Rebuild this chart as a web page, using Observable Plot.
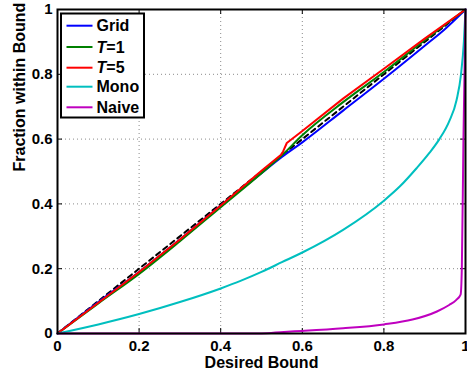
<!DOCTYPE html>
<html>
<head>
<meta charset="utf-8">
<script src="https://cdn.jsdelivr.net/npm/d3@7"></script>
<script src="https://cdn.jsdelivr.net/npm/@observablehq/plot@0.6"></script>
<style>
  html, body { margin: 0; padding: 0; background: #fff; }
  #chart { width: 467px; height: 375px; }
</style>
</head>
<body>
<div id="chart"></div>
<script>
// ---- data ----
const xTicks = [0, 0.2, 0.4, 0.6, 0.8, 1];
const yTicks = [0, 0.2, 0.4, 0.6, 0.8, 1];
const xTickLabels = ["0", "0.2", "0.4", "0.6", "0.8", "1"];
const yTickLabels = ["0", "0.2", "0.4", "0.6", "0.8", "1"];
const xLabel = "Desired Bound";
const yLabel = "Fraction within Bound";

const idealX = [0, 1];
const idealY = [0, 1];

const gridX = [0, 0.1, 0.2, 0.3, 0.4, 0.5, 0.55, 0.6, 0.7, 0.8, 0.9, 0.95, 1];
const gridY = [0, 0.097, 0.19, 0.29, 0.395, 0.495, 0.545, 0.59, 0.688, 0.786, 0.888, 0.94, 1];

const t1X = [0, 0.1, 0.2, 0.3, 0.4, 0.5, 0.55, 0.6, 0.7, 0.8, 0.9, 1];
const t1Y = [0, 0.093, 0.184, 0.285, 0.39, 0.495, 0.55, 0.612, 0.714, 0.807, 0.905, 1];

const t5X = [0, 0.1, 0.2, 0.3, 0.4, 0.5, 0.548, 0.553, 0.562, 0.6, 0.7, 0.8, 0.9, 1];
const t5Y = [0, 0.095, 0.19, 0.29, 0.395, 0.502, 0.552, 0.562, 0.588, 0.625, 0.725, 0.817, 0.91, 1];

const monoX = [0, 0.1, 0.2, 0.3, 0.4, 0.45, 0.5, 0.55, 0.6, 0.7, 0.8, 0.84, 0.88, 0.91, 0.936, 0.96, 0.978, 0.989, 0.996, 1];
const monoY = [0, 0.028, 0.06, 0.097, 0.139, 0.163, 0.19, 0.22, 0.25, 0.32, 0.41, 0.455, 0.51, 0.555, 0.6, 0.655, 0.72, 0.8, 0.9, 1];

const naiveX = [0, 0.5, 0.555, 0.6, 0.7, 0.8, 0.87, 0.93, 0.96, 0.977, 0.988, 0.991, 0.995, 1];
const naiveY = [0, 0, 0.005, 0.008, 0.016, 0.028, 0.043, 0.068, 0.088, 0.103, 0.12, 0.2, 0.6, 1];

const seriesNames = ["Grid", "T=1", "T=5", "Mono", "Naive"];
const seriesColors = ["#0000ff", "#008000", "#ff0000", "#00bfbf", "#bf00bf"];
const seriesCurves = ["monotone-x", "monotone-x", "linear", "monotone-x", "monotone-x"];

// ---- build ----
const W = 467, H = 375;
const mL = 57, mR = 2, mT = 9, mB = 42;
const frameH = H - mT - mB;
const frameW = W - mL - mR;
const pairs = (xs, ys) => xs.map((x, i) => ({x, y: ys[i]}));
const series = [
  pairs(gridX, gridY), pairs(t1X, t1Y), pairs(t5X, t5Y), pairs(monoX, monoY), pairs(naiveX, naiveY)
];
const font = "'Liberation Sans', Arial, Helvetica, sans-serif";

const chart = Plot.plot({
  width: W,
  height: H,
  marginLeft: mL,
  marginRight: mR,
  marginTop: mT,
  marginBottom: mB,
  style: {fontFamily: font, fontSize: "15px", fontWeight: "bold", background: "#fff", color: "#000"},
  x: {domain: [0, 1], ticks: xTicks, tickFormat: d => xTickLabels[xTicks.indexOf(d)], tickSize: 0, tickPadding: 7, label: null},
  y: {domain: [0, 1], ticks: yTicks, tickFormat: d => yTickLabels[yTicks.indexOf(d)], tickSize: 0, tickPadding: 5, label: null},
  marks: [
    Plot.ruleX(xTicks.slice(1, -1), {x: d => d, stroke: "#8a8a8a", strokeWidth: 1, strokeDasharray: "1,3"}),
    Plot.ruleY(yTicks.slice(1, -1), {y: d => d, stroke: "#8a8a8a", strokeWidth: 1, strokeDasharray: "1,3"}),
    // inward ticks on all four sides
    Plot.tickX(xTicks, {x: d => d, insetTop: frameH - 5, stroke: "#000", strokeWidth: 1}),
    Plot.tickX(xTicks, {x: d => d, insetBottom: frameH - 5, stroke: "#000", strokeWidth: 1}),
    Plot.tickY(yTicks, {y: d => d, insetRight: frameW - 5, stroke: "#000", strokeWidth: 1}),
    Plot.tickY(yTicks, {y: d => d, insetLeft: frameW - 5, stroke: "#000", strokeWidth: 1}),
    Plot.line(pairs(idealX, idealY), {x: "x", y: "y", stroke: "#000", strokeWidth: 2, strokeDasharray: "5,4"}),
    ...series.map((s, i) => Plot.line(s, {x: "x", y: "y", stroke: seriesColors[i], strokeWidth: 2, curve: seriesCurves[i]})),
    Plot.frame({stroke: "#000", strokeWidth: 2}),
    Plot.text([xLabel], {frameAnchor: "bottom", text: d => d, lineAnchor: "middle", dy: 29, fontSize: 16, fontWeight: "bold"}),
    Plot.text([yLabel], {frameAnchor: "left", text: d => d, lineAnchor: "middle", rotate: -90, dx: -38, fontSize: 16, fontWeight: "bold"})
  ]
});

document.getElementById("chart").appendChild(chart);

// ---- legend (inside the plot, top-left) ----
const svg = d3.select(chart);
const lg = svg.append("g").attr("font-family", font).attr("font-size", 16).attr("font-weight", "bold").attr("text-anchor", "start");
lg.append("rect").attr("x", 61).attr("y", 13.5).attr("width", 83).attr("height", 104)
  .attr("fill", "#fff").attr("stroke", "#000").attr("stroke-width", 2);
const rowY = [25.7, 47, 67.7, 86.7, 107.3];
seriesNames.forEach((name, i) => {
  lg.append("line").attr("x1", 66.5).attr("x2", 92.5).attr("y1", rowY[i]).attr("y2", rowY[i])
    .attr("stroke", seriesColors[i]).attr("stroke-width", 2);
  const t = lg.append("text").attr("x", 96.5).attr("y", rowY[i] + 5.6).attr("fill", "#000").attr("text-anchor", "start");
  if (name.startsWith("T=")) {
    t.append("tspan").attr("font-style", "italic").text("T");
    t.append("tspan").text(name.slice(1));
  } else {
    t.text(name);
  }
});
</script>
</body>
</html>
